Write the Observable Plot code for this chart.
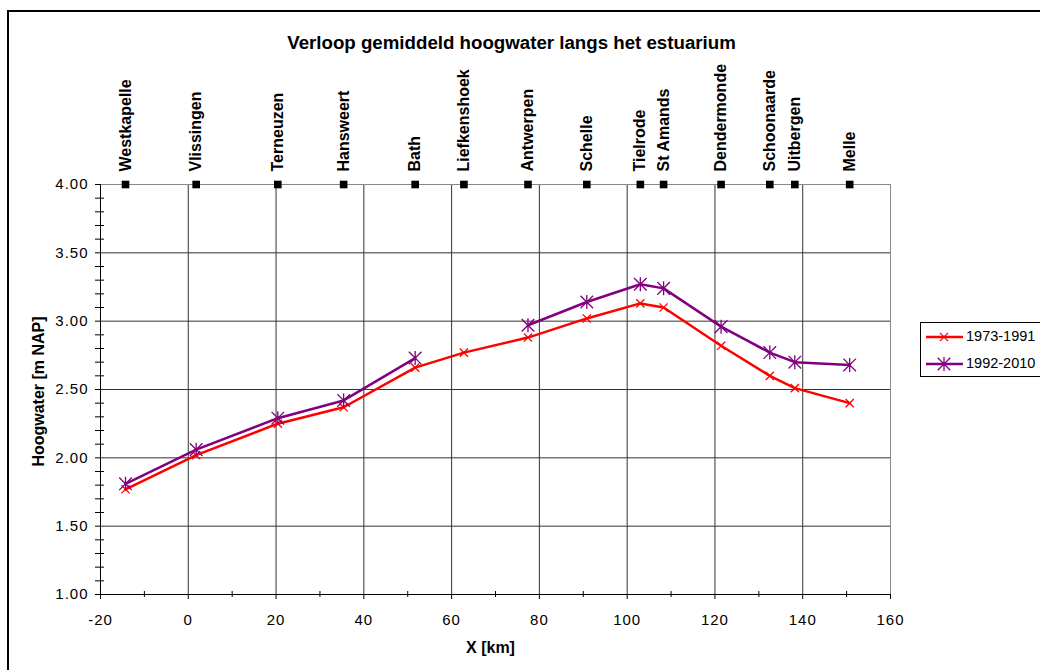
<!DOCTYPE html>
<html>
<head>
<meta charset="utf-8">
<script src="https://cdn.jsdelivr.net/npm/d3@7"></script>
<script src="https://cdn.jsdelivr.net/npm/@observablehq/plot@0.6"></script>
<style>
  body { margin: 0; background: #fff; }
  svg { display: block; }
  g[aria-label="y-axis tick label"] text,
  g[aria-label="x-axis tick label"] text { letter-spacing: 1px; }
</style>
</head>
<body>
<div id="chart"></div>
<script>
// ---- data ----
const stations = ["Westkapelle", "Vlissingen", "Terneuzen", "Hansweert", "Bath", "Liefkenshoek",
  "Antwerpen", "Schelle", "Tielrode", "St Amands", "Dendermonde", "Schoonaarde", "Uitbergen", "Melle"];
const km = [-14.3, 1.8, 20.4, 35.4, 51.7, 62.8, 77.4, 90.8, 103.0, 108.3, 121.4, 132.5, 138.2, 150.7];
const hw1973_1991 = [1.77, 2.02, 2.25, 2.37, 2.66, 2.77, 2.88, 3.02, 3.13, 3.10, 2.82, 2.60, 2.51, 2.40];
const hw1992_2010 = [1.81, 2.06, 2.29, 2.42, 2.73, null, 2.97, 3.14, 3.27, 3.24, 2.96, 2.77, 2.70, 2.68];
const seriesNames = ["1973-1991", "1992-2010"];
const seriesColors = ["#ff0000", "#800080"];
const xTicks = [-20, 0, 20, 40, 60, 80, 100, 120, 140, 160];
const xMinor = [-10, 10, 30, 50, 70, 90, 110, 130, 150];
const yTicks = [1.0, 1.5, 2.0, 2.5, 3.0, 3.5, 4.0];
const yMinor = [1.1, 1.2, 1.3, 1.4, 1.6, 1.7, 1.8, 1.9, 2.1, 2.2, 2.3, 2.4, 2.6, 2.7, 2.8, 2.9,
  3.1, 3.2, 3.3, 3.4, 3.6, 3.7, 3.8, 3.9];
const titleText = "Verloop gemiddeld hoogwater langs het estuarium";
const xLabel = "X [km]";
const yLabel = "Hoogwater [m NAP]";

// ---- tables ----
const stationRows = stations.map((s, i) => ({station: s, km: km[i]}));
const series = [hw1973_1991, hw1992_2010];
const rows = stations.flatMap((s, i) => series.map((vals, j) => ({station: s, km: km[i], value: vals[i], series: seriesNames[j]})));
const xDomain = [xTicks[0], xTicks[xTicks.length - 1]];
const yDomain = [yTicks[0], yTicks[yTicks.length - 1]];

// Excel-like star marker (x plus vertical bar)
const star = {
  draw(ctx, size) {
    const r = Math.sqrt(size / Math.PI);
    const a = r * 0.9;
    ctx.moveTo(0, -r); ctx.lineTo(0, r);
    ctx.moveTo(-a, -a); ctx.lineTo(a, a);
    ctx.moveTo(-a, a); ctx.lineTo(a, -a);
  }
};
const symbols = [d3.symbolTimes, star];
const symbolR = [3.8, 7];

const font = "'Liberation Sans', Arial, Helvetica, sans-serif";

const plot = Plot.plot({
  width: 1040,
  height: 670,
  marginLeft: 100,
  marginRight: 150,
  marginTop: 184,
  marginBottom: 76,
  style: {fontFamily: font, fontSize: "15px", background: "#fff", color: "#000"},
  x: {domain: xDomain, axis: null, label: null},
  y: {domain: yDomain, axis: null, label: null},
  color: {domain: seriesNames, range: seriesColors},
  marks: [
    Plot.ruleX(xTicks.slice(1, -1), {stroke: "#333"}),
    Plot.ruleY(yTicks.slice(1, -1), {stroke: "#333"}),
    Plot.ruleX([xDomain[1]], {stroke: "#888"}),
    Plot.ruleY([yDomain[1]], {stroke: "#888"}),
    Plot.ruleX([xDomain[0]], {stroke: "#000"}),
    Plot.ruleY([yDomain[0]], {stroke: "#000"}),
    Plot.axisY(yTicks, {anchor: "left", label: null, tickSize: 5, tickPadding: 7, tickFormat: d3.format(".2f"), fontSize: 15, stroke: "#000", color: "#000"}),
    Plot.axisY(yMinor, {anchor: "left", label: null, tickSize: 9, dx: 4, tickFormat: () => "", stroke: "#000"}),
    Plot.axisX(xTicks, {anchor: "bottom", label: null, tickSize: 5, tickPadding: 15, tickFormat: d => String(d), fontSize: 15, stroke: "#000"}),
    Plot.axisX(xMinor, {anchor: "bottom", label: null, tickSize: 6, dy: -3, tickFormat: () => "", stroke: "#000"}),
    // station markers & labels
    Plot.dot(stationRows, {x: "km", y: () => yDomain[1], symbol: "square", fill: "#000", r: 4.3}),
    Plot.text(stationRows, {x: "km", y: () => yDomain[1], text: "station", rotate: -90, textAnchor: "start",
      lineAnchor: "middle", dy: -13, fontWeight: "bold", fontSize: 16, fill: "#000"}),
    // series
    Plot.line(rows, {x: "km", y: "value", z: "series", stroke: "series", strokeWidth: 2.5}),
    ...seriesNames.map((name, j) => Plot.dot(rows.filter(d => d.series === name && d.value != null),
      {x: "km", y: "value", symbol: symbols[j], stroke: "series", fill: "none", r: symbolR[j], strokeWidth: 1.3})),
    // titles
    Plot.text([titleText], {frameAnchor: "top", dx: 16, dy: -136, lineAnchor: "bottom", fontWeight: "bold", fontSize: 18.7, fill: "#000"}),
    Plot.text([yLabel], {frameAnchor: "left", rotate: -90, dx: -57, dy: 2, lineAnchor: "bottom", textAnchor: "middle", fontWeight: "bold", fontSize: 16, fill: "#000"}),
    Plot.text([xLabel], {frameAnchor: "bottom", dx: -5, dy: 58, lineAnchor: "bottom", fontWeight: "bold", fontSize: 16, fill: "#000"})
  ]
});

const svg = d3.select(plot);
// legend
const lg = svg.append("g").attr("class", "legend").attr("font-family", font).attr("font-size", 14.5)
  .attr("text-anchor", "start");
lg.append("rect").attr("x", 920.5).attr("y", 322.5).attr("width", 160).attr("height", 54)
  .attr("fill", "#fff").attr("stroke", "#000");
seriesNames.forEach((name, j) => {
  const y = 337 + j * 27;
  lg.append("line").attr("x1", 926).attr("x2", 963).attr("y1", y).attr("y2", y)
    .attr("stroke", seriesColors[j]).attr("stroke-width", 2.5);
  lg.append("path").attr("d", d3.symbol().type(symbols[j]).size(Math.PI * symbolR[j] * symbolR[j])())
    .attr("transform", `translate(944,${y})`).attr("fill", "none").attr("stroke", seriesColors[j]).attr("stroke-width", 1.3);
  lg.append("text").attr("x", 966).attr("y", y + 4).attr("text-anchor", "start").attr("fill", "#000").text(name);
});
// outer chart border
svg.append("rect").attr("x", 8).attr("y", 11).attr("width", 1100).attr("height", 700)
  .attr("fill", "none").attr("stroke", "#000").attr("stroke-width", 2);

document.getElementById("chart").appendChild(plot);
</script>
</body>
</html>
